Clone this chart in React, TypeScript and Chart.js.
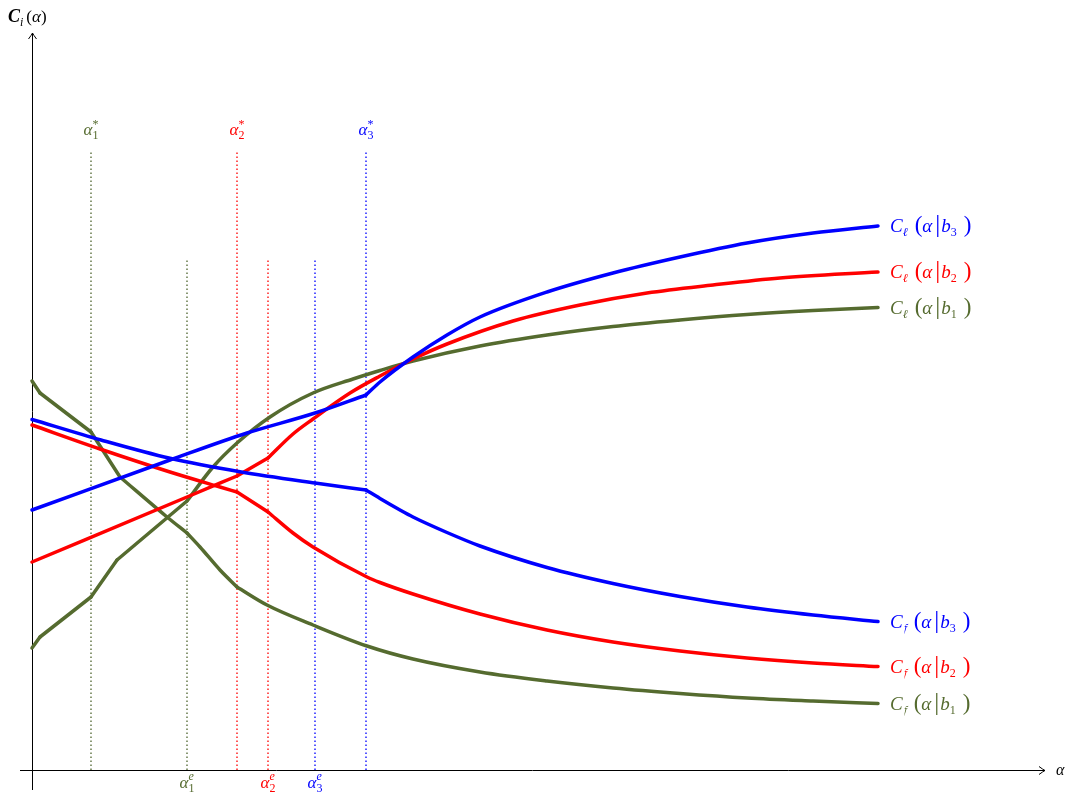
import { useEffect, useRef } from 'react';
import { Chart, registerables } from 'chart.js';

Chart.register(...registerables);

const W = 1074;
const H = 799;
const X_MAX = 101.3;
const Y_MAX = 73.7;

// Curves: [alpha, cost]
const leaderB1 = [
  [0, 12.2], [0.8, 13.3], [5.9, 17.3], [8.5, 21.0], [15.5, 26.9], [18.1, 30.3], [20.5, 32.7],
  [23.8, 35.3], [28.1, 37.7], [32.1, 39.1], [34.8, 39.95], [38.1, 40.9], [44.8, 42.4], [51.5, 43.5],
  [58.1, 44.35], [64.8, 45.0], [71.5, 45.55], [78.1, 45.95], [84.6, 46.25],
];
const followerB1 = [
  [0, 38.9], [0.8, 37.7], [5.9, 33.8], [8.8, 29.3], [13.5, 25.3], [15.5, 23.7], [16.8, 22.3],
  [18.8, 20.0], [20.5, 18.3], [23.5, 16.5], [28.1, 14.5], [33.5, 12.4], [38.1, 11.1], [44.8, 9.8],
  [51.5, 8.9], [58.1, 8.2], [64.8, 7.65], [71.5, 7.2], [78.1, 6.9], [84.6, 6.65],
];
const leaderB2 = [
  [0, 20.8], [15.5, 27.3], [20.5, 29.4], [23.6, 31.2], [26.1, 33.6], [28.1, 35.1], [31.8, 37.7],
  [34.8, 39.4], [38.1, 41.1], [41.5, 42.6], [48.1, 44.9], [54.8, 46.5], [61.5, 47.7], [68.1, 48.5],
  [74.8, 49.2], [84.6, 49.8],
];
const followerB2 = [
  [0, 34.5], [6.8, 32.1], [13.8, 29.8], [18.8, 28.3], [20.5, 27.8], [23.6, 25.8], [26.1, 23.7],
  [28.1, 22.3], [33.5, 19.3], [34.8, 18.75], [38.1, 17.6], [44.8, 15.6], [51.5, 14.0], [58.1, 12.8],
  [64.8, 11.9], [71.5, 11.2], [78.1, 10.7], [84.6, 10.35],
];
const leaderB3 = [
  [0, 26.0], [13.8, 31.0], [21.5, 33.7], [28.3, 35.7], [33.4, 37.5], [34.8, 38.8], [38.1, 41.3],
  [41.5, 43.5], [44.8, 45.3], [51.5, 47.8], [58.1, 49.7], [64.8, 51.3], [71.5, 52.7], [78.1, 53.7],
  [84.6, 54.4],
];
const followerB3 = [
  [0, 35.05], [6.9, 33.0], [13.8, 31.17], [20.8, 29.83], [28.3, 28.7], [33.4, 28.0], [34.8, 27.15],
  [36.8, 26.0], [38.1, 25.3], [41.5, 23.75], [44.8, 22.4], [51.5, 20.25], [58.1, 18.65], [64.8, 17.35],
  [71.5, 16.3], [78.1, 15.5], [84.6, 14.85],
];

// Kink positions (alpha) where each curve changes regime
const leaderB1Kinks = [0.8, 5.9, 8.5, 15.5];
const followerB1Kinks = [0.8, 5.9, 8.8, 15.5, 20.5];
const leaderB2Kinks = [20.5, 23.6];
const followerB2Kinks = [20.5, 23.6];
const leaderB3Kinks = [33.4];
const followerB3Kinks = [33.4];

// Threshold markers
const starX = [5.9, 20.5, 33.4];
const equilX = [15.5, 23.6, 28.3];
const starTop = 62;
const equilTop = 51;
const indexLabels = ['1', '2', '3'];

const OLIVE = '#556B2F';
const RED = '#FF0000';
const BLUE = '#0000FF';
const COLORS = [OLIVE, RED, BLUE];
const DOT_COLORS = ['#66794A', '#FF2020', '#2020FF'];

const SERIF = '"Liberation Serif", "DejaVu Serif", serif';

type Part = { t: string; f: string; dy?: number; gap?: number; noAdvance?: boolean };

function drawParts(ctx: CanvasRenderingContext2D, parts: Part[], x: number, y: number, align: 'left' | 'center', color: string) {
  let w = 0;
  for (const p of parts) {
    ctx.font = `${p.f}px ${SERIF}`;
    w += (p.gap || 0) + (p.noAdvance ? 0 : ctx.measureText(p.t).width);
  }
  let cx = align === 'center' ? x - w / 2 : x;
  ctx.fillStyle = color;
  ctx.textBaseline = 'alphabetic';
  ctx.textAlign = 'left';
  for (const p of parts) {
    ctx.font = `${p.f}px ${SERIF}`;
    cx += p.gap || 0;
    ctx.fillText(p.t, cx, y + (p.dy || 0));
    if (!p.noAdvance) cx += ctx.measureText(p.t).width;
  }
}

function curveLabel(sub: string, idx: string): Part[] {
  return [
    { t: 'C', f: 'italic 19' },
    { t: sub, f: 'italic 12', dy: 4 },
    { t: '(', f: '23', gap: 7 },
    { t: 'α', f: 'italic 19' },
    { t: '|', f: '25', gap: 3 },
    { t: 'b', f: 'italic 19', gap: 1 },
    { t: idx, f: '12', dy: 4 },
    { t: ')', f: '23', gap: 7 },
  ];
}

const decorPlugin = {
  id: 'decor',
  beforeDatasetsDraw(chart: any) {
    const ctx: CanvasRenderingContext2D = chart.ctx;
    const xs = chart.scales.x;
    const ys = chart.scales.y;
    const x0 = xs.getPixelForValue(0);
    const y0 = ys.getPixelForValue(0);
    const xEnd = xs.getPixelForValue(X_MAX);
    const yEnd = ys.getPixelForValue(Y_MAX);
    ctx.save();
    ctx.strokeStyle = '#000';
    ctx.lineWidth = 1;
    ctx.beginPath();
    ctx.moveTo(xs.getPixelForValue(-1.2), y0 + 0.5);
    ctx.lineTo(xEnd, y0 + 0.5);
    ctx.moveTo(x0 + 0.5, ys.getPixelForValue(-2.0));
    ctx.lineTo(x0 + 0.5, yEnd);
    ctx.stroke();
    // arrowheads
    ctx.beginPath();
    ctx.moveTo(xEnd - 6, y0 + 0.5 - 4);
    ctx.quadraticCurveTo(xEnd - 2, y0 + 0.5 - 1, xEnd, y0 + 0.5);
    ctx.quadraticCurveTo(xEnd - 2, y0 + 0.5 + 1, xEnd - 6, y0 + 0.5 + 4);
    ctx.moveTo(x0 + 0.5 - 4, yEnd + 6);
    ctx.quadraticCurveTo(x0 + 0.5 - 1, yEnd + 2, x0 + 0.5, yEnd);
    ctx.quadraticCurveTo(x0 + 0.5 + 1, yEnd + 2, x0 + 0.5 + 4, yEnd + 6);
    ctx.stroke();
    ctx.restore();
  },
  afterDraw(chart: any) {
    const ctx: CanvasRenderingContext2D = chart.ctx;
    const xs = chart.scales.x;
    const ys = chart.scales.y;
    const x0 = xs.getPixelForValue(0);
    const y0 = ys.getPixelForValue(0);
    const xEnd = xs.getPixelForValue(X_MAX);
    const yEnd = ys.getPixelForValue(Y_MAX);
    ctx.save();
    // axis titles
    drawParts(ctx, [
      { t: 'C', f: 'bold italic 18' },
      { t: 'i', f: 'italic 12', dy: 4 },
      { t: '(', f: '17', gap: 3 },
      { t: 'α', f: 'italic 17' },
      { t: ')', f: '17' },
    ], x0 - 24, yEnd - 11, 'left', '#000');
    drawParts(ctx, [{ t: 'α', f: 'italic 16' }], xEnd + 11, y0 + 5, 'left', '#000');

    // marker labels
    for (let i = 0; i < 3; i++) {
      const sx = xs.getPixelForValue(starX[i]);
      drawParts(ctx, [
        { t: 'α', f: 'italic 17' },
        { t: '*', f: '12', dy: -7, noAdvance: true },
        { t: indexLabels[i], f: '12', dy: 4 },
      ], sx, ys.getPixelForValue(starTop) - 15, 'center', COLORS[i]);
      const ex = xs.getPixelForValue(equilX[i]);
      drawParts(ctx, [
        { t: 'α', f: 'italic 17' },
        { t: 'e', f: 'italic 12', dy: -8, noAdvance: true },
        { t: indexLabels[i], f: '12', dy: 4 },
      ], ex, y0 + 18, 'center', COLORS[i]);
    }

    // curve labels
    const leaders = [leaderB1, leaderB2, leaderB3];
    const followers = [followerB1, followerB2, followerB3];
    for (let i = 0; i < 3; i++) {
      const l = leaders[i][leaders[i].length - 1];
      drawParts(ctx, curveLabel('ℓ', indexLabels[i]), xs.getPixelForValue(l[0]) + 12, ys.getPixelForValue(l[1]) + 6, 'left', COLORS[i]);
      const f = followers[i][followers[i].length - 1];
      drawParts(ctx, curveLabel('𝔣', indexLabels[i]), xs.getPixelForValue(f[0]) + 12, ys.getPixelForValue(f[1]) + 6, 'left', COLORS[i]);
    }
    ctx.restore();
  },
};

// split a curve into smooth pieces at its kinks (pieces share the kink point)
function splitAtKinks(data: number[][], kinks: number[]): number[][][] {
  const pieces: number[][][] = [];
  let cur: number[][] = [];
  for (const p of data) {
    cur.push(p);
    if (kinks.includes(p[0])) {
      pieces.push(cur);
      cur = [p];
    }
  }
  if (cur.length > 1) pieces.push(cur);
  return pieces;
}

export default function App() {
  const ref = useRef<HTMLCanvasElement | null>(null);
  useEffect(() => {
    if (!ref.current) return;
    const curve = (data: number[][], kinks: number[], color: string) =>
      splitAtKinks(data, kinks).map((piece) => ({
        data: piece.map(([x, y]) => ({ x, y })),
        borderColor: color,
        backgroundColor: color,
        borderWidth: 3.5,
        pointRadius: 0,
        cubicInterpolationMode: 'monotone' as const,
        fill: false,
        clip: false as any,
        borderJoinStyle: 'round' as const,
        borderCapStyle: 'round' as const,
      }));
    const marker = (x: number, top: number, color: string) => ({
      data: [{ x, y: 0 }, { x, y: top }],
      borderColor: color,
      borderWidth: 1.5,
      borderDash: [1.5, 2.5],
      pointRadius: 0,
      fill: false,
    });
    const datasets: any[] = [
      ...curve(leaderB3, leaderB3Kinks, BLUE),
      ...curve(followerB3, followerB3Kinks, BLUE),
      ...curve(leaderB2, leaderB2Kinks, RED),
      ...curve(followerB2, followerB2Kinks, RED),
      ...curve(leaderB1, leaderB1Kinks, OLIVE),
      ...curve(followerB1, followerB1Kinks, OLIVE),
    ];
    for (let i = 0; i < 3; i++) {
      datasets.push(marker(starX[i], starTop, DOT_COLORS[i]));
      datasets.push(marker(equilX[i], equilTop, DOT_COLORS[i]));
    }
    const chart = new Chart(ref.current, {
      type: 'line',
      data: { datasets },
      options: {
        animation: false,
        responsive: false,
        events: [],
        layout: { padding: { left: 32, right: 29, top: 33, bottom: 29 } },
        plugins: { legend: { display: false }, tooltip: { enabled: false } },
        scales: {
          x: { type: 'linear', min: 0, max: X_MAX, display: false },
          y: { type: 'linear', min: 0, max: Y_MAX, display: false },
        },
      },
      plugins: [decorPlugin],
    });
    return () => chart.destroy();
  }, []);
  return (
    <div style={{ position: 'fixed', left: 0, top: 0, width: W, height: H, background: '#fff' }}>
      <canvas ref={ref} width={W} height={H} style={{ display: 'block', width: W, height: H }} />
    </div>
  );
}
